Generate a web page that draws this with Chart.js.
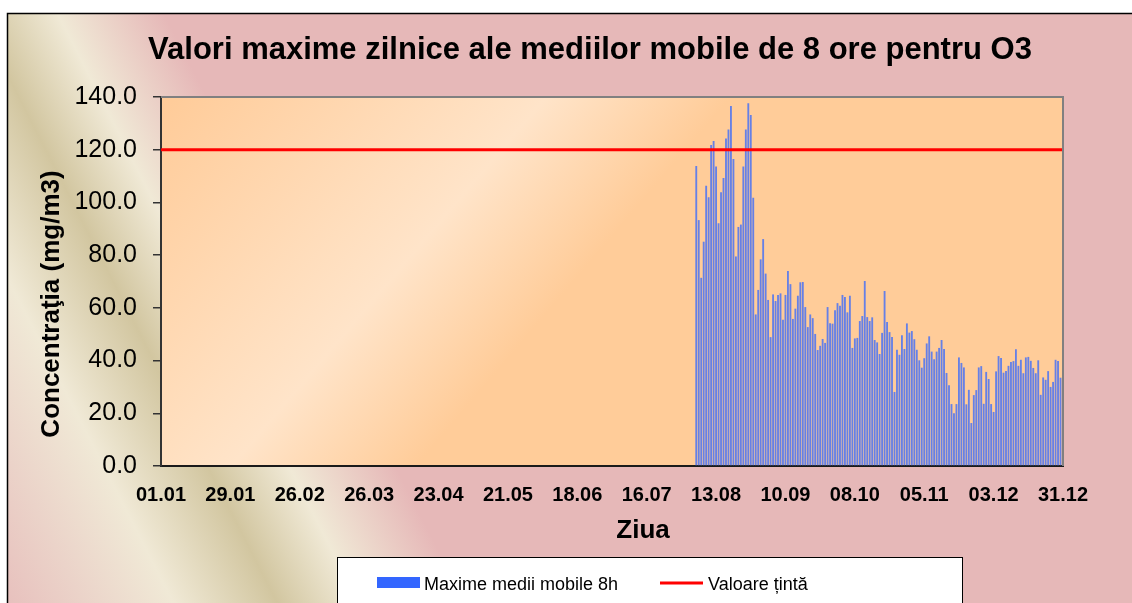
<!DOCTYPE html>
<html lang="ro">
<head>
    <meta charset="UTF-8">
    <title>Valori maxime zilnice O3</title>
    <script src="https://cdn.jsdelivr.net/npm/chart.js"></script>
    <style>
        body { margin: 0; background: #fff; }
        #wrap { width: 1132px; height: 603px; position: relative; }
    </style>
</head>
<body>
    <div id="wrap"><canvas id="grafic"></canvas></div>

    <script>
        // etichetele afisate pe axa x (din 28 in 28 de zile)
        const etichete = ['01.01', '29.01', '26.02', '26.03', '23.04', '21.05', '18.06',
                          '16.07', '13.08', '10.09', '08.10', '05.11', '03.12', '31.12'];

        // primele date apar pe 05.08 (ziua cu indexul 216)
        const primaZi = 216;
        const august = [113.8, 93.3, 71.4, 85.1, 106.3, 102.0, 121.8, 123.3, 113.6, 92.1, 103.9, 109.3, 124.3, 127.7,
                        136.6, 116.5, 79.5, 90.7, 91.6, 113.6, 127.7, 137.6, 133.2, 101.8, 57.5, 66.8, 78.4];
        const septembrie = [86.1, 73.0, 63.0, 48.9, 65.1, 62.6, 64.9, 65.5, 55.5, 64.9, 74.0, 69.0, 55.8, 59.7, 64.6,
                            69.7, 69.8, 60.3, 52.7, 57.5, 56.1, 50.1, 44.0, 45.6, 48.2, 46.7, 60.3, 54.2, 54.0, 59.1];
        const octombrie = [61.8, 60.8, 64.9, 64.1, 58.3, 64.6, 44.8, 48.4, 48.6, 55.0, 56.9, 70.2, 56.5, 55.0, 56.4, 47.8,
                           46.9, 42.5, 50.5, 66.4, 54.6, 50.8, 48.9, 28.1, 44.1, 42.2, 49.6, 44.4, 54.1, 50.6, 51.2];
        const noiembrie = [48.1, 44.1, 40.1, 37.3, 40.9, 46.5, 49.2, 43.4, 40.5, 43.4, 44.8, 47.8, 44.4, 35.3, 30.6,
                           23.5, 20.0, 23.5, 41.2, 39.1, 37.4, 23.4, 28.9, 16.3, 26.9, 28.8, 37.4, 37.9, 23.6, 35.7];
        const decembrie = [33.0, 23.5, 20.5, 35.9, 41.7, 41.0, 35.4, 36.0, 38.0, 39.5, 39.8, 44.3, 38.0, 40.3, 35.2, 41.2,
                           41.4, 39.9, 37.2, 35.2, 40.1, 27.0, 33.6, 32.7, 36.0, 30.0, 31.9, 40.3, 39.8, 33.5, 23.4];
        const valoareTinta = 120;

        // toate zilele anului (2011, 365 zile)
        const zile = [];
        for (let i = 0; i < 365; i++) {
            const d = new Date(2011, 0, 1 + i);
            zile.push(String(d.getDate()).padStart(2, '0') + '.' + String(d.getMonth() + 1).padStart(2, '0'));
        }
        const seriaBare = new Array(primaZi).fill(null).concat(august, septembrie, octombrie, noiembrie, decembrie);
        const linieTinta = zile.map(() => valoareTinta);

        const FONT = '"Liberation Sans", Arial, sans-serif';
        Chart.defaults.font.family = FONT;
        Chart.defaults.color = '#000';

        const fundal = {
            id: 'fundal',
            beforeDraw(chart) {
                const ctx = chart.ctx, a = chart.chartArea;
                ctx.save();
                ctx.fillStyle = '#fff';
                ctx.fillRect(0, 0, chart.width, chart.height);

                const g = ctx.createLinearGradient(-267, 136.5, 178, -91);
                g.addColorStop(0, '#e6b8b8');
                g.addColorStop(0.2, '#ebd3c9');
                g.addColorStop(0.36, '#f0e9d6');
                g.addColorStop(0.545, '#d2c6a0');
                g.addColorStop(0.69, '#f0e9d6');
                g.addColorStop(0.88, '#e6b8b8');
                g.addColorStop(1, '#e6b8b8');
                ctx.fillStyle = g;
                ctx.fillRect(7, 13, chart.width - 7, chart.height - 13);

                ctx.strokeStyle = '#000';
                ctx.lineWidth = 1.5;
                ctx.beginPath();
                ctx.moveTo(7.5, chart.height);
                ctx.lineTo(7.5, 13.5);
                ctx.lineTo(chart.width, 13.5);
                ctx.stroke();

                const g2 = ctx.createLinearGradient(76, 65, 610, 520);
                g2.addColorStop(0, '#ffc995');
                g2.addColorStop(0.12, '#ffcb98');
                g2.addColorStop(0.54, '#ffe4c9');
                g2.addColorStop(0.74, '#ffcc99');
                g2.addColorStop(1, '#ffcc99');
                ctx.fillStyle = g2;
                ctx.fillRect(a.left, a.top, a.right - a.left, a.bottom - a.top);
                ctx.restore();
            },
            afterDraw(chart) {
                const ctx = chart.ctx, a = chart.chartArea;
                ctx.save();
                // rama gri sus si dreapta
                ctx.strokeStyle = '#808080';
                ctx.lineWidth = 2;
                ctx.beginPath();
                ctx.moveTo(a.left, a.top);
                ctx.lineTo(a.right, a.top);
                ctx.lineTo(a.right, a.bottom);
                ctx.stroke();

                // titlu
                ctx.fillStyle = '#000';
                ctx.font = 'bold 31px ' + FONT;
                ctx.textAlign = 'center';
                ctx.textBaseline = 'alphabetic';
                ctx.fillText('Valori maxime zilnice ale mediilor mobile de 8 ore pentru O3', 590, 59);

                // titlurile axelor
                ctx.font = 'bold 26px ' + FONT;
                ctx.textBaseline = 'middle';
                ctx.fillText('Ziua', 643, 531);
                ctx.save();
                ctx.translate(52, 304);
                ctx.rotate(-Math.PI / 2);
                ctx.fillText('Concentraţia (mg/m3)', 0, 0);
                ctx.restore();

                // legenda
                ctx.fillStyle = '#fff';
                ctx.fillRect(337, 557, 625, 60);
                ctx.strokeStyle = '#000';
                ctx.lineWidth = 1;
                ctx.strokeRect(337.5, 557.5, 625, 60);
                ctx.fillStyle = '#3366ff';
                ctx.fillRect(377, 577, 43, 11);
                ctx.strokeStyle = '#ff0000';
                ctx.lineWidth = 3;
                ctx.beginPath();
                ctx.moveTo(660, 583);
                ctx.lineTo(703, 583);
                ctx.stroke();
                ctx.fillStyle = '#000';
                ctx.font = '18px ' + FONT;
                ctx.textAlign = 'left';
                ctx.textBaseline = 'alphabetic';
                ctx.fillText('Maxime medii mobile 8h', 424, 590);
                ctx.fillText('Valoare țintă', 708, 590);
                ctx.restore();
            }
        };

        new Chart(document.getElementById('grafic'), {
            type: 'bar',
            data: {
                labels: zile,
                datasets: [
                    {
                        type: 'line',
                        label: 'Valoare țintă',
                        data: linieTinta,
                        borderColor: '#ff0000',
                        borderWidth: 3,
                        pointRadius: 0,
                        fill: false,
                        order: 0
                    },
                    {
                        type: 'bar',
                        label: 'Maxime medii mobile 8h',
                        data: seriaBare,
                        backgroundColor: '#6680e6',
                        borderWidth: 0,
                        barPercentage: 0.75,
                        categoryPercentage: 1,
                        order: 1
                    }
                ]
            },
            options: {
                responsive: true,
                maintainAspectRatio: false,
                animation: false,
                layout: { padding: { left: 37, right: 69, top: 97, bottom: 55 } },
                plugins: {
                    legend: { display: false },
                    tooltip: { enabled: false }
                },
                scales: {
                    x: {
                        offset: false,
                        grid: { display: false },
                        border: { display: true, color: '#1a1a1a', width: 2 },
                        ticks: {
                            autoSkip: false,
                            maxRotation: 0,
                            minRotation: 0,
                            padding: 9,
                            font: { size: 20, weight: 'bold' },
                            callback: function (v) {
                                const l = this.getLabelForValue(v);
                                return etichete.includes(l) ? l : '';
                            }
                        },
                        afterFit: s => { s.height = 82; }
                    },
                    y: {
                        min: 0,
                        max: 140,
                        ticks: {
                            stepSize: 20,
                            padding: 16,
                            font: { size: 25 },
                            callback: v => v.toFixed(1)
                        },
                        grid: { display: true, drawOnChartArea: false, drawTicks: true, tickLength: 8, color: '#333', lineWidth: 1.5 },
                        border: { display: true, color: '#333', width: 2 },
                        afterFit: s => { s.width = 124; }
                    }
                }
            },
            plugins: [fundal]
        });
    </script>
</body>
</html>
